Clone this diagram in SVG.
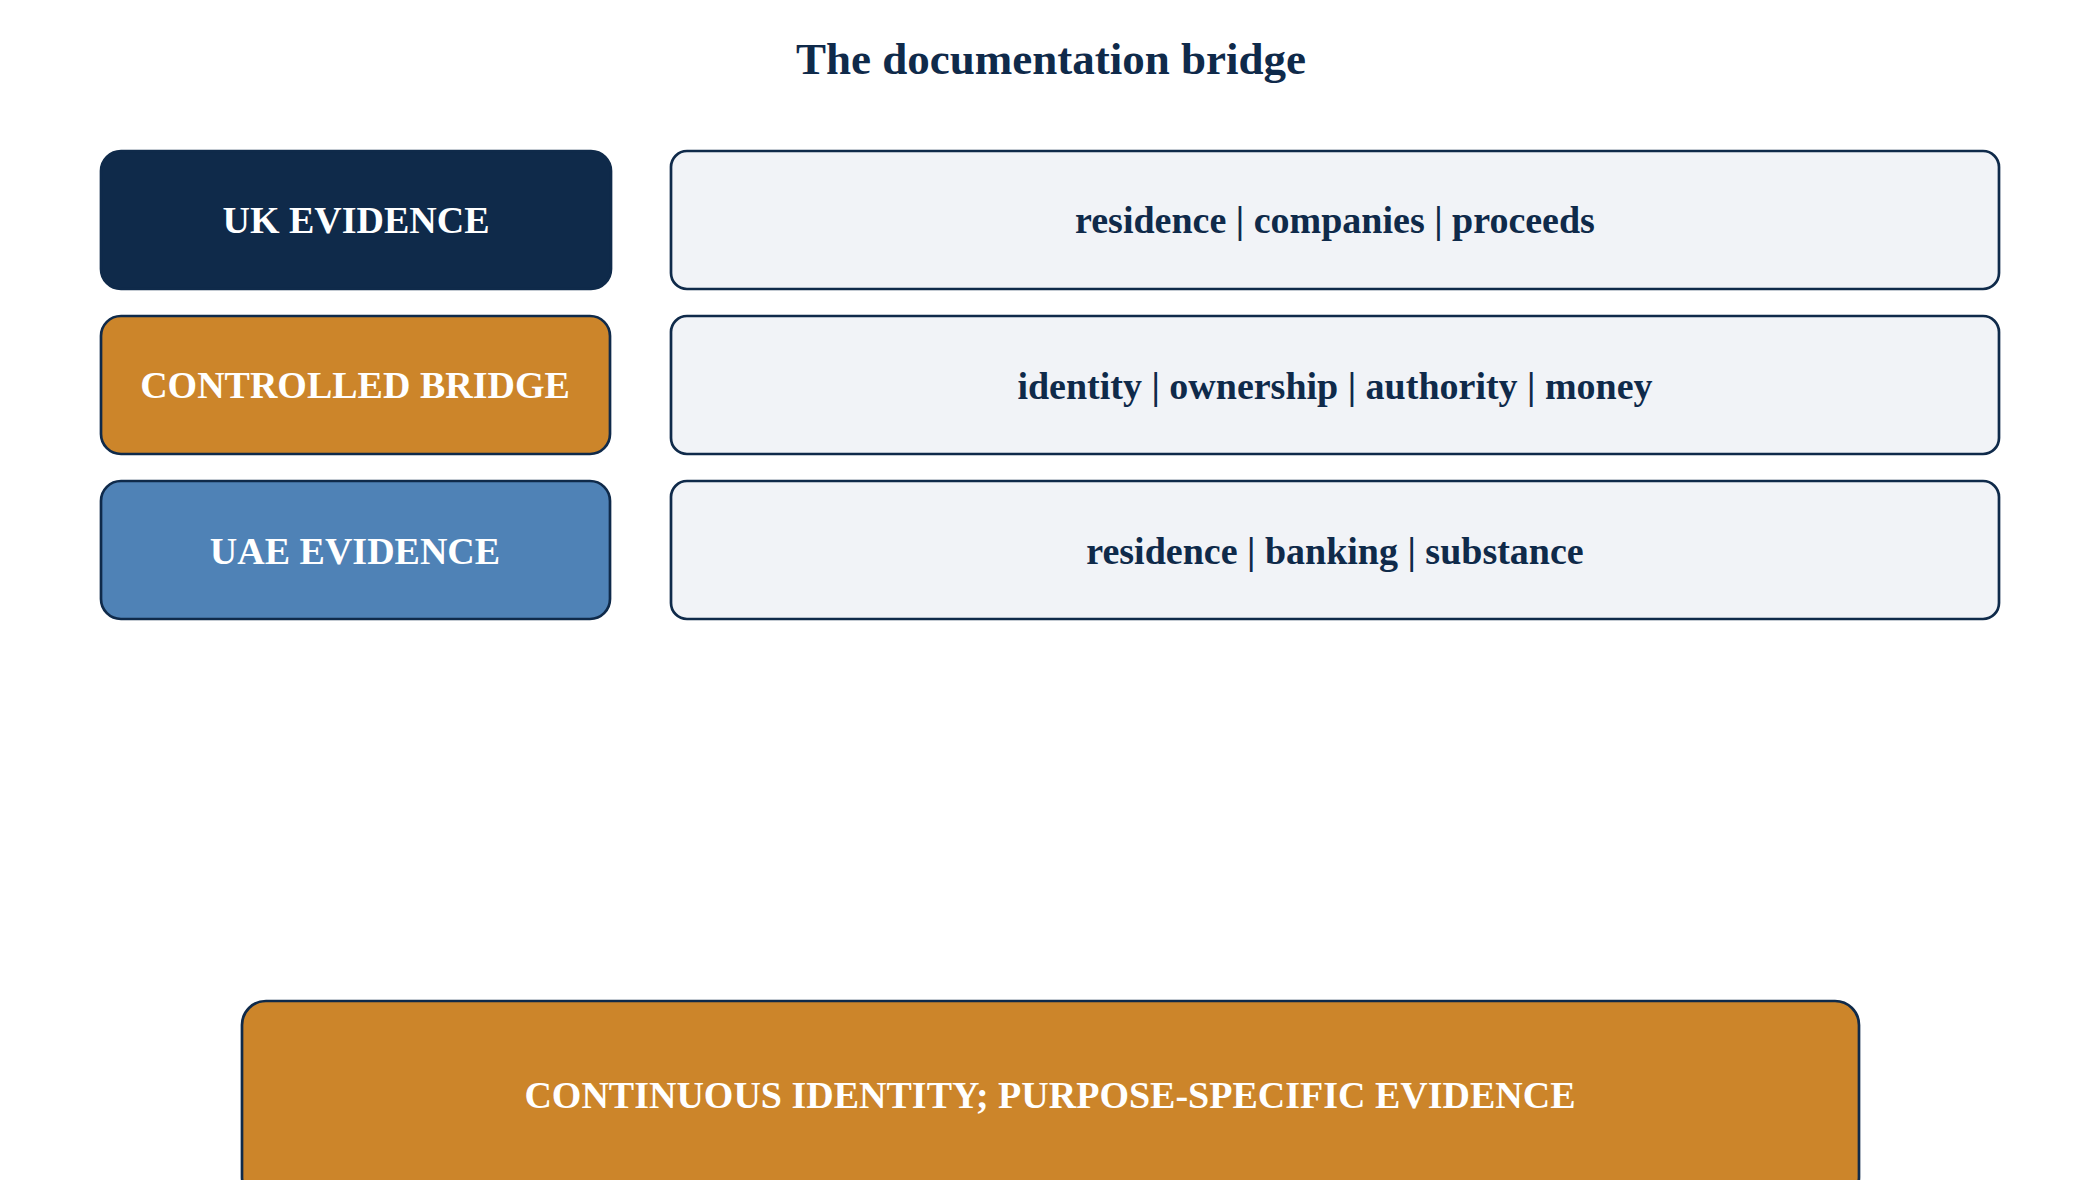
<svg xmlns="http://www.w3.org/2000/svg" width="2100" height="1180" viewBox="0 0 2100 1180">
<style>
text{font-family:"Liberation Serif","Times New Roman",serif;font-weight:bold;text-anchor:middle;dominant-baseline:central}
.b{stroke:#0f2a4a;stroke-width:2.7}
.w{fill:#ffffff;font-size:38px}
.d{fill:#0f2a4a;font-size:38px}
</style>
<rect width="2100" height="1180" fill="#ffffff"/>
<text x="1051" y="59" fill="#0f2a4a" style="font-size:45px">The documentation bridge</text>
<g id="uk"><rect class="b" x="101" y="151" width="510" height="138" rx="20" fill="#0f2a4a"/><text class="w" x="356" y="220">UK EVIDENCE</text></g>
<g id="uk-detail"><rect class="b" x="671" y="151" width="1328" height="138" rx="16" fill="#f1f3f7"/><text class="d" x="1335" y="220">residence | companies | proceeds</text></g>
<g id="bridge"><rect class="b" x="101" y="316" width="509" height="138" rx="20" fill="#cc852a"/><text class="w" x="355" y="385">CONTROLLED BRIDGE</text></g>
<g id="bridge-detail"><rect class="b" x="671" y="316" width="1328" height="138" rx="16" fill="#f1f3f7"/><text class="d" x="1335" y="386">identity | ownership | authority | money</text></g>
<g id="uae"><rect class="b" x="101" y="481" width="509" height="138" rx="20" fill="#4f82b6"/><text class="w" x="355" y="551">UAE EVIDENCE</text></g>
<g id="uae-detail"><rect class="b" x="671" y="481" width="1328" height="138" rx="16" fill="#f1f3f7"/><text class="d" x="1335" y="551">residence | banking | substance</text></g>
<g id="conclusion"><rect class="b" x="242" y="1001" width="1617" height="200" rx="24" fill="#cc852a"/><text class="w" x="1050" y="1095">CONTINUOUS IDENTITY; PURPOSE-SPECIFIC EVIDENCE</text></g>
<g id="connectors"></g>
</svg>
